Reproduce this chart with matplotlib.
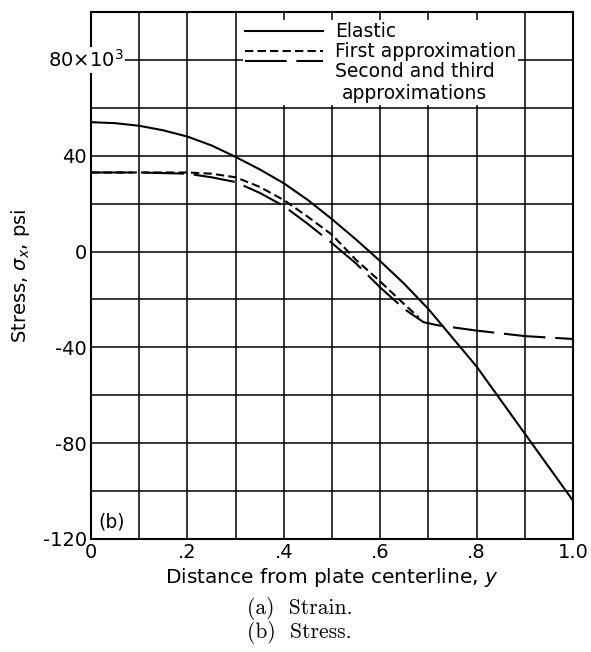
import matplotlib
matplotlib.use("Agg")
import numpy as np
import matplotlib.pyplot as plt
from matplotlib.legend_handler import HandlerLine2D

# values (stress in ksi, y = distance from centerline)
y_elastic = [0.0, 0.05, 0.1, 0.15, 0.2, 0.25, 0.3, 0.35, 0.4, 0.45, 0.5, 0.55, 0.6, 0.65, 0.7,
             0.75, 0.8, 0.85, 0.9, 0.95, 1.0]
s_elastic = [54, 53.6, 52.5, 50.6, 48, 44.3, 39.5, 34.3, 28.5, 21.5, 13.5, 5, -4, -13.5, -24,
             -36, -48, -62, -76, -90, -104]

y_first = [0.0, 0.1, 0.2, 0.25, 0.3, 0.35, 0.4, 0.45, 0.5, 0.55, 0.6, 0.65, 0.68]
s_first = [33, 33, 33, 32.5, 31, 27, 21.5, 14.5, 7, -3.5, -12.5, -22, -27.5]

y_second = [0.0, 0.1, 0.2, 0.25, 0.3, 0.35, 0.4, 0.45, 0.5, 0.55, 0.6, 0.65, 0.69, 0.72, 0.8, 0.9, 1.0]
s_second = [33, 33, 32.5, 31, 29, 24.5, 19, 11.5, 3.5, -5, -15, -24, -29.5, -30.8, -33, -35.3, -36.5]

labels = ["Elastic", "First approximation", "Second and third\napproximations"]
ytick_vals = [-120, -80, -40, 0, 40, 80]
ytick_labels = ["-120", "-80", "-40", "0", "40", ""]
xtick_vals = [0, 0.2, 0.4, 0.6, 0.8, 1.0]
xtick_labels = ["0", ".2", ".4", ".6", ".8", "1.0"]

plt.rcParams["font.family"] = ["DejaVu Sans"]
plt.rcParams["lines.scale_dashes"] = False


class RaisedLine(HandlerLine2D):
    # put the handle next to the first line of a two-line label
    def __init__(self, dy, **kw):
        super().__init__(**kw)
        self.dy = dy

    def create_artists(self, legend, orig_handle, xdescent, ydescent, width, height, fontsize, trans):
        arts = super().create_artists(legend, orig_handle, xdescent, ydescent, width, height, fontsize, trans)
        for a in arts:
            a.set_ydata(np.asarray(a.get_ydata()) + self.dy * fontsize)
        return arts


fig = plt.figure(figsize=(5.91, 6.52), dpi=100)
ax = fig.add_axes([91 / 591, 1 - 539 / 652, 482 / 591, 527 / 652])

lw = 1.5
ax.plot(y_elastic, s_elastic, color="black", lw=lw, label=labels[0], zorder=3)
ax.plot(y_first, s_first, color="black", lw=lw, ls=(0, (6, 3)), label=labels[1], zorder=3)
l3, = ax.plot(y_second, s_second, color="black", lw=lw, ls=(0, (30, 7)), label=labels[2], zorder=3)

ax.set_xlim(0, 1.0)
ax.set_ylim(-120, 100)
ax.set_xticks(np.arange(0, 1.01, 0.1), minor=True)
ax.set_yticks(np.arange(-120, 101, 20), minor=True)
ax.set_xticks(xtick_vals)
ax.set_xticklabels(xtick_labels)
ax.set_yticks(ytick_vals)
ax.set_yticklabels(ytick_labels)
ax.grid(True, which="both", color="black", lw=1.1)
ax.set_axisbelow(True)
ax.tick_params(which="both", length=0, labelsize=14)
ax.tick_params(axis="x", pad=3)
ax.tick_params(axis="y", pad=3)
for s in ax.spines.values():
    s.set_linewidth(1.5)

ax.text(-0.09, 80, "80×10$^3$", fontsize=14, ha="left", va="center",
        transform=ax.get_yaxis_transform(), zorder=6,
        bbox=dict(facecolor="white", edgecolor="none", pad=1.5))
ax.text(0.015, -113, "(b)", fontsize=13.5, ha="left", va="center")

ax.set_xlabel("Distance from plate centerline, $y$", fontsize=14.5, labelpad=3)
ax.set_ylabel(r"Stress, $\sigma_x$, psi", fontsize=14, labelpad=8)

leg = ax.legend(loc="upper left", bbox_to_anchor=(0.315, 0.984), fontsize=13.5,
                frameon=True, facecolor="white", edgecolor="none", framealpha=1,
                fancybox=False, borderaxespad=0, borderpad=0.1,
                handlelength=4.2, handletextpad=0.6, labelspacing=0.05,
                handler_map={l3: RaisedLine(1.2)})
leg.get_texts()[2].set_multialignment("center")

fig.text(247 / 591, 1 - 608 / 652, "(a)  Strain.", family="cmr10", fontsize=15.5, ha="left", va="center")
fig.text(247 / 591, 1 - 632 / 652, "(b)  Stress.", family="cmr10", fontsize=15.5, ha="left", va="center")

fig.savefig("out.png", dpi=100)
